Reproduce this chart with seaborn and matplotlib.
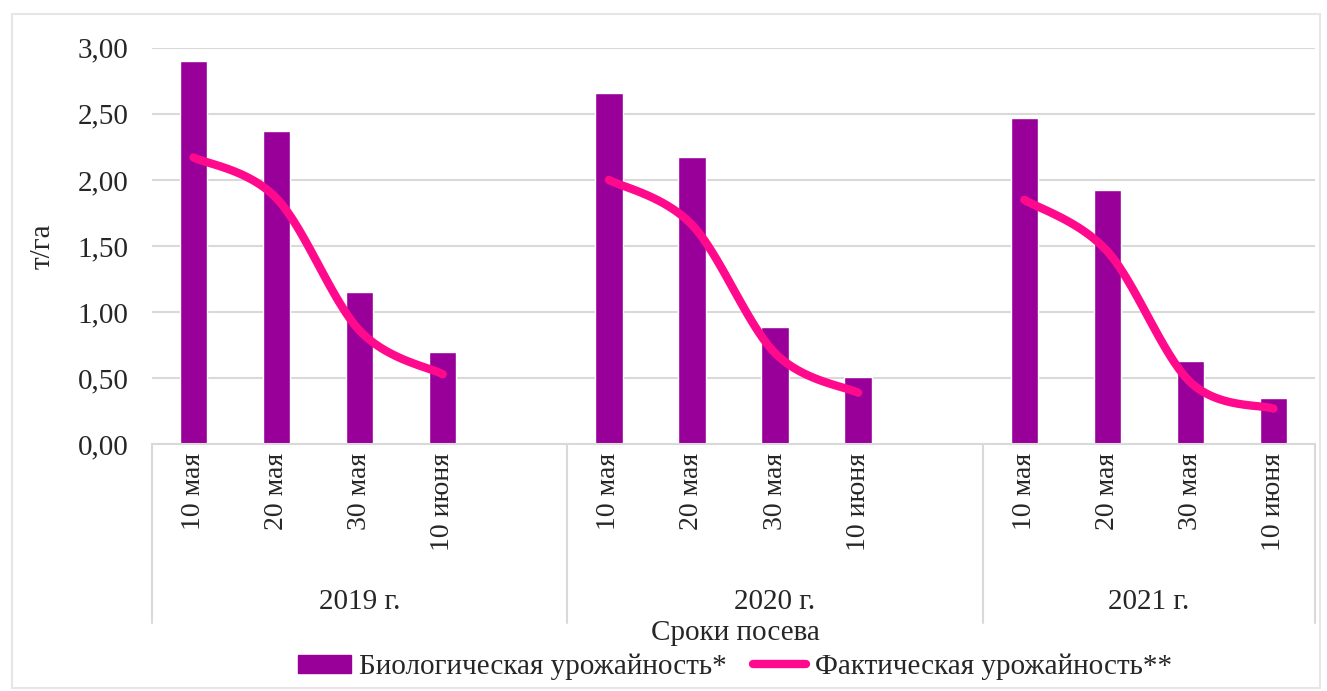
import numpy as np
import pandas as pd
import matplotlib
matplotlib.use("Agg")
import matplotlib.pyplot as plt
from matplotlib.patches import Rectangle
from matplotlib.lines import Line2D
import seaborn as sns

# ---- data ----
years = ["2019 г.", "2020 г.", "2021 г."]
dates = ["10 мая", "20 мая", "30 мая", "10 июня"]
bio_2019 = [2.90, 2.37, 1.15, 0.70]
bio_2020 = [2.66, 2.17, 0.89, 0.51]
bio_2021 = [2.47, 1.92, 0.63, 0.35]
fact_2019 = [2.17, 1.86, 0.86, 0.53]
fact_2020 = [2.00, 1.66, 0.69, 0.39]
fact_2021 = [1.85, 1.46, 0.47, 0.27]
gap_after = [True, True, False]   # empty category slot at end of group

bio = [bio_2019, bio_2020, bio_2021]
fact = [fact_2019, fact_2020, fact_2021]

BAR_COLOR = "#990099"
LINE_COLOR = "#FF0A8C"
GRID = "#D9D9D9"
FONT = ["Liberation Serif", "DejaVu Serif"]

sns.set_theme(style="white")
plt.rcParams["font.family"] = FONT

# build slot order
order, rows, groups = [], [], []
for yi, y in enumerate(years):
    start = len(order)
    for di, d in enumerate(dates):
        key = f"{y}|{d}"
        order.append(key)
        rows.append({"key": key, "year": y, "date": d, "bio": bio[yi][di], "fact": fact[yi][di]})
    if gap_after[yi]:
        order.append(f"{y}|gap")
    groups.append((start, len(order)))
df = pd.DataFrame(rows)
pos = {k: i for i, k in enumerate(order)}
df["x"] = df["key"].map(pos)

fig = plt.figure(figsize=(13.27, 6.91), dpi=100)
ax = fig.add_axes([152 / 1327, 1 - 444.3 / 691, (1315 - 152) / 1327, (444.3 - 47.7) / 691])

sns.barplot(data=df, x="key", y="bio", order=order, color=BAR_COLOR, width=0.33,
            saturation=1, ax=ax, zorder=2)


def catmull(xp, yp, n=40):
    xp = np.asarray(xp, float)
    yp = np.asarray(yp, float)
    P = np.column_stack([xp, yp])
    P = np.vstack([P[0], P, P[-1]])
    out = []
    t = np.linspace(0, 1, n)
    for i in range(1, len(P) - 2):
        p0, p1, p2, p3 = P[i - 1], P[i], P[i + 1], P[i + 2]
        c1 = p1 + (p2 - p0) / 6
        c2 = p2 - (p3 - p1) / 6
        seg = ((1 - t) ** 3)[:, None] * p1 + (3 * (1 - t) ** 2 * t)[:, None] * c1 + \
              (3 * (1 - t) * t ** 2)[:, None] * c2 + (t ** 3)[:, None] * p2
        out.append(seg if i == 1 else seg[1:])
    return np.vstack(out)

for y in years:
    sub = df[df["year"] == y]
    curve = catmull(sub["x"], sub["fact"])
    sns.lineplot(x=curve[:, 0], y=curve[:, 1], sort=False, estimator=None, color=LINE_COLOR,
                 lw=6, solid_capstyle="round", ax=ax, zorder=3)

ax.set_ylim(0, 3)
ax.set_xlim(-0.5, len(order) - 0.5)
ax.set_yticks(np.arange(0, 3.01, 0.5))
ax.set_yticklabels([f"{v:.2f}".replace(".", ",") for v in np.arange(0, 3.01, 0.5)], fontsize=21)
ax.yaxis.grid(True, color=GRID, lw=1.5, zorder=0)
ax.set_axisbelow(True)
for s in ["top", "right", "left"]:
    ax.spines[s].set_visible(False)
ax.spines["bottom"].set_color(GRID)
ax.spines["bottom"].set_linewidth(1.5)
ax.tick_params(axis="y", length=0, pad=17)
ax.tick_params(axis="x", length=0, pad=6)
xt = list(df["x"])
ax.set_xticks(xt)
ax.set_xticklabels(list(df["date"]), rotation=90, va="top", ha="center", fontsize=20)
ax.set_xlabel("")
ax.set_ylabel("т/га", fontsize=21, labelpad=16)

# group separators and year labels
ybot = (444.3 - 623) / 396.6
bounds = [g[0] - 0.5 for g in groups] + [groups[-1][1] - 0.5]
trans = ax.get_xaxis_transform()
for b in bounds:
    ax.plot([b, b], [0, ybot], transform=trans, color=GRID, lw=1.5, clip_on=False)
for (s, e), y in zip(groups, years):
    ax.text((s + e - 1) / 2, (444.3 - 602) / 396.6, y, transform=trans, ha="center",
            va="center", fontsize=21)

fig.text(735 / 1327, 1 - 633 / 691, "Сроки посева", ha="center", va="center", fontsize=21)

handles = [Rectangle((0, 0), 1, 1, color=BAR_COLOR),
           Line2D([0], [0], color=LINE_COLOR, lw=6, solid_capstyle="round")]
fig.legend(handles, ["Биологическая урожайность*", "Фактическая урожайность**"],
           loc="center", bbox_to_anchor=(735 / 1327, 1 - 667 / 691), ncol=2, frameon=False,
           fontsize=21, handlelength=1.8, handleheight=0.6, handletextpad=0.3,
           columnspacing=0.9)

# chart border
fig.patches.append(Rectangle((12 / 1327, 1 - 688 / 691), (1320 - 12) / 1327, (688 - 14) / 691,
                             transform=fig.transFigure, fill=False, edgecolor="#E6E6E6", lw=1.5))

fig.savefig("out.png", dpi=100)
